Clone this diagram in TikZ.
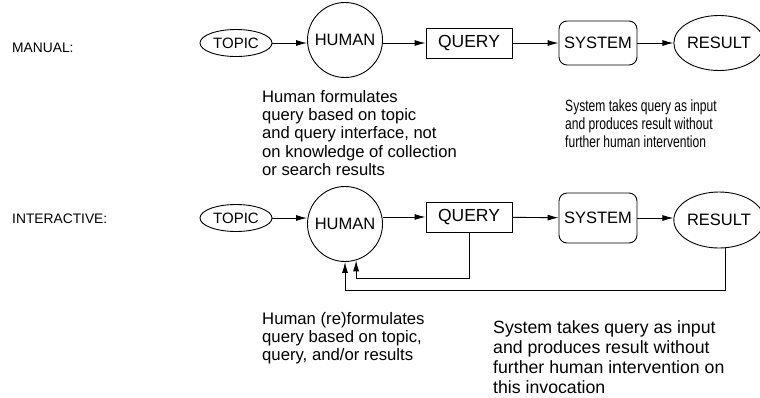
\documentclass[tikz,border=0pt]{standalone}
\usepackage{fontspec}
\setmainfont{Liberation Sans}
\newfontfamily\narrowsans[FakeStretch=0.74]{Liberation Sans}
\usetikzlibrary{shapes.geometric,arrows.meta}
\tikzset{every node/.style={inner sep=0pt},
  boxfont/.style={font=\fontsize{16.5}{18}\selectfont},
  topicnode/.style={draw,ellipse,line width=0.9pt,minimum width=72pt,minimum height=27pt,font=\fontsize{15}{18}\selectfont},
  humannode/.style={draw,circle,line width=0.9pt,minimum size=75pt,boxfont},
  querynode/.style={draw,rectangle,line width=0.9pt,minimum width=86pt,minimum height=30pt,font=\fontsize{17.5}{18}\selectfont},
  systemnode/.style={draw,rectangle,rounded corners=8pt,line width=0.9pt,minimum width=78pt,minimum height=44pt,boxfont},
  resultnode/.style={draw,ellipse,line width=0.9pt,minimum width=78pt,minimum height=55pt,boxfont},
  modelabel/.style={anchor=west,font=\fontsize{13.8}{16}\selectfont},
  note/.style={anchor=north west,align=left},
  flowarrow/.style={line width=0.9pt,-{Latex[length=11pt,width=6pt]}}}

\begin{document}
\begin{tikzpicture}[x=1pt,y=-1pt]
    \useasboundingbox (0,0) rectangle (760,397);

    % manual search
    \node[modelabel] (manual) at (12,48) {MANUAL:};
    \node[topicnode]  (topic-m)  at (236,43) {TOPIC};
    \node[humannode]  (human-m)  at (345,40) {HUMAN};
    \node[querynode]  (query-m)  at (469,43) {QUERY};
    \node[systemnode] (system-m) at (598,43) {SYSTEM};
    \node[resultnode] (result-m) at (719,43) {RESULT};
    \draw[flowarrow] (topic-m) -- (topic-m -| human-m.west);
    \draw[flowarrow] (human-m.east |- query-m) -- (query-m);
    \draw[flowarrow] (query-m) -- (system-m);
    \draw[flowarrow] (system-m) -- (result-m);
    \node[note,font=\fontsize{16.6}{18.3}\selectfont] (note-m-human) at (262,90)
        {Human formulates\\query based on topic\\and query interface, not\\on knowledge of collection\\or search results};
    \node[note,font=\narrowsans\fontsize{16.3}{18.3}\selectfont] (note-m-system) at (565,99)
        {System takes query as input\\and produces result without\\further human intervention};

    % interactive search
    \node[modelabel] (interactive) at (12,218.5) {INTERACTIVE:};
    \node[topicnode]  (topic-i)  at (236,218) {TOPIC};
    \node[humannode]  (human-i)  at (345,224) {HUMAN};
    \node[querynode]  (query-i)  at (469,217) {QUERY};
    \node[systemnode,minimum height=50pt] (system-i) at (598,218) {SYSTEM};
    \node[resultnode,minimum height=56pt] (result-i) at (719,220) {RESULT};
    \draw[flowarrow] (topic-i) -- (topic-i -| human-i.west);
    \draw[flowarrow] (human-i.east |- query-i) -- (query-i);
    \draw[flowarrow] (query-i) -- (system-i);
    \draw[flowarrow] (system-i) -- (system-i -| result-i.west);
    \draw[flowarrow] (query-i.south) -- ++(0,46) -| (human-i.-73);
    \draw[flowarrow] ([xshift=6pt]result-i.south) -- ++(0,42) -| (human-i.south);
    \node[note,font=\fontsize{16.7}{18.3}\selectfont] (note-i-human) at (262,312)
        {Human (re)formulates\\query based on topic,\\query, and/or results};
    \node[note,font=\fontsize{17.7}{20}\selectfont] (note-i-system) at (493,320)
        {System takes query as input\\and produces result without\\further human intervention on\\this invocation};
\end{tikzpicture}
\end{document}
